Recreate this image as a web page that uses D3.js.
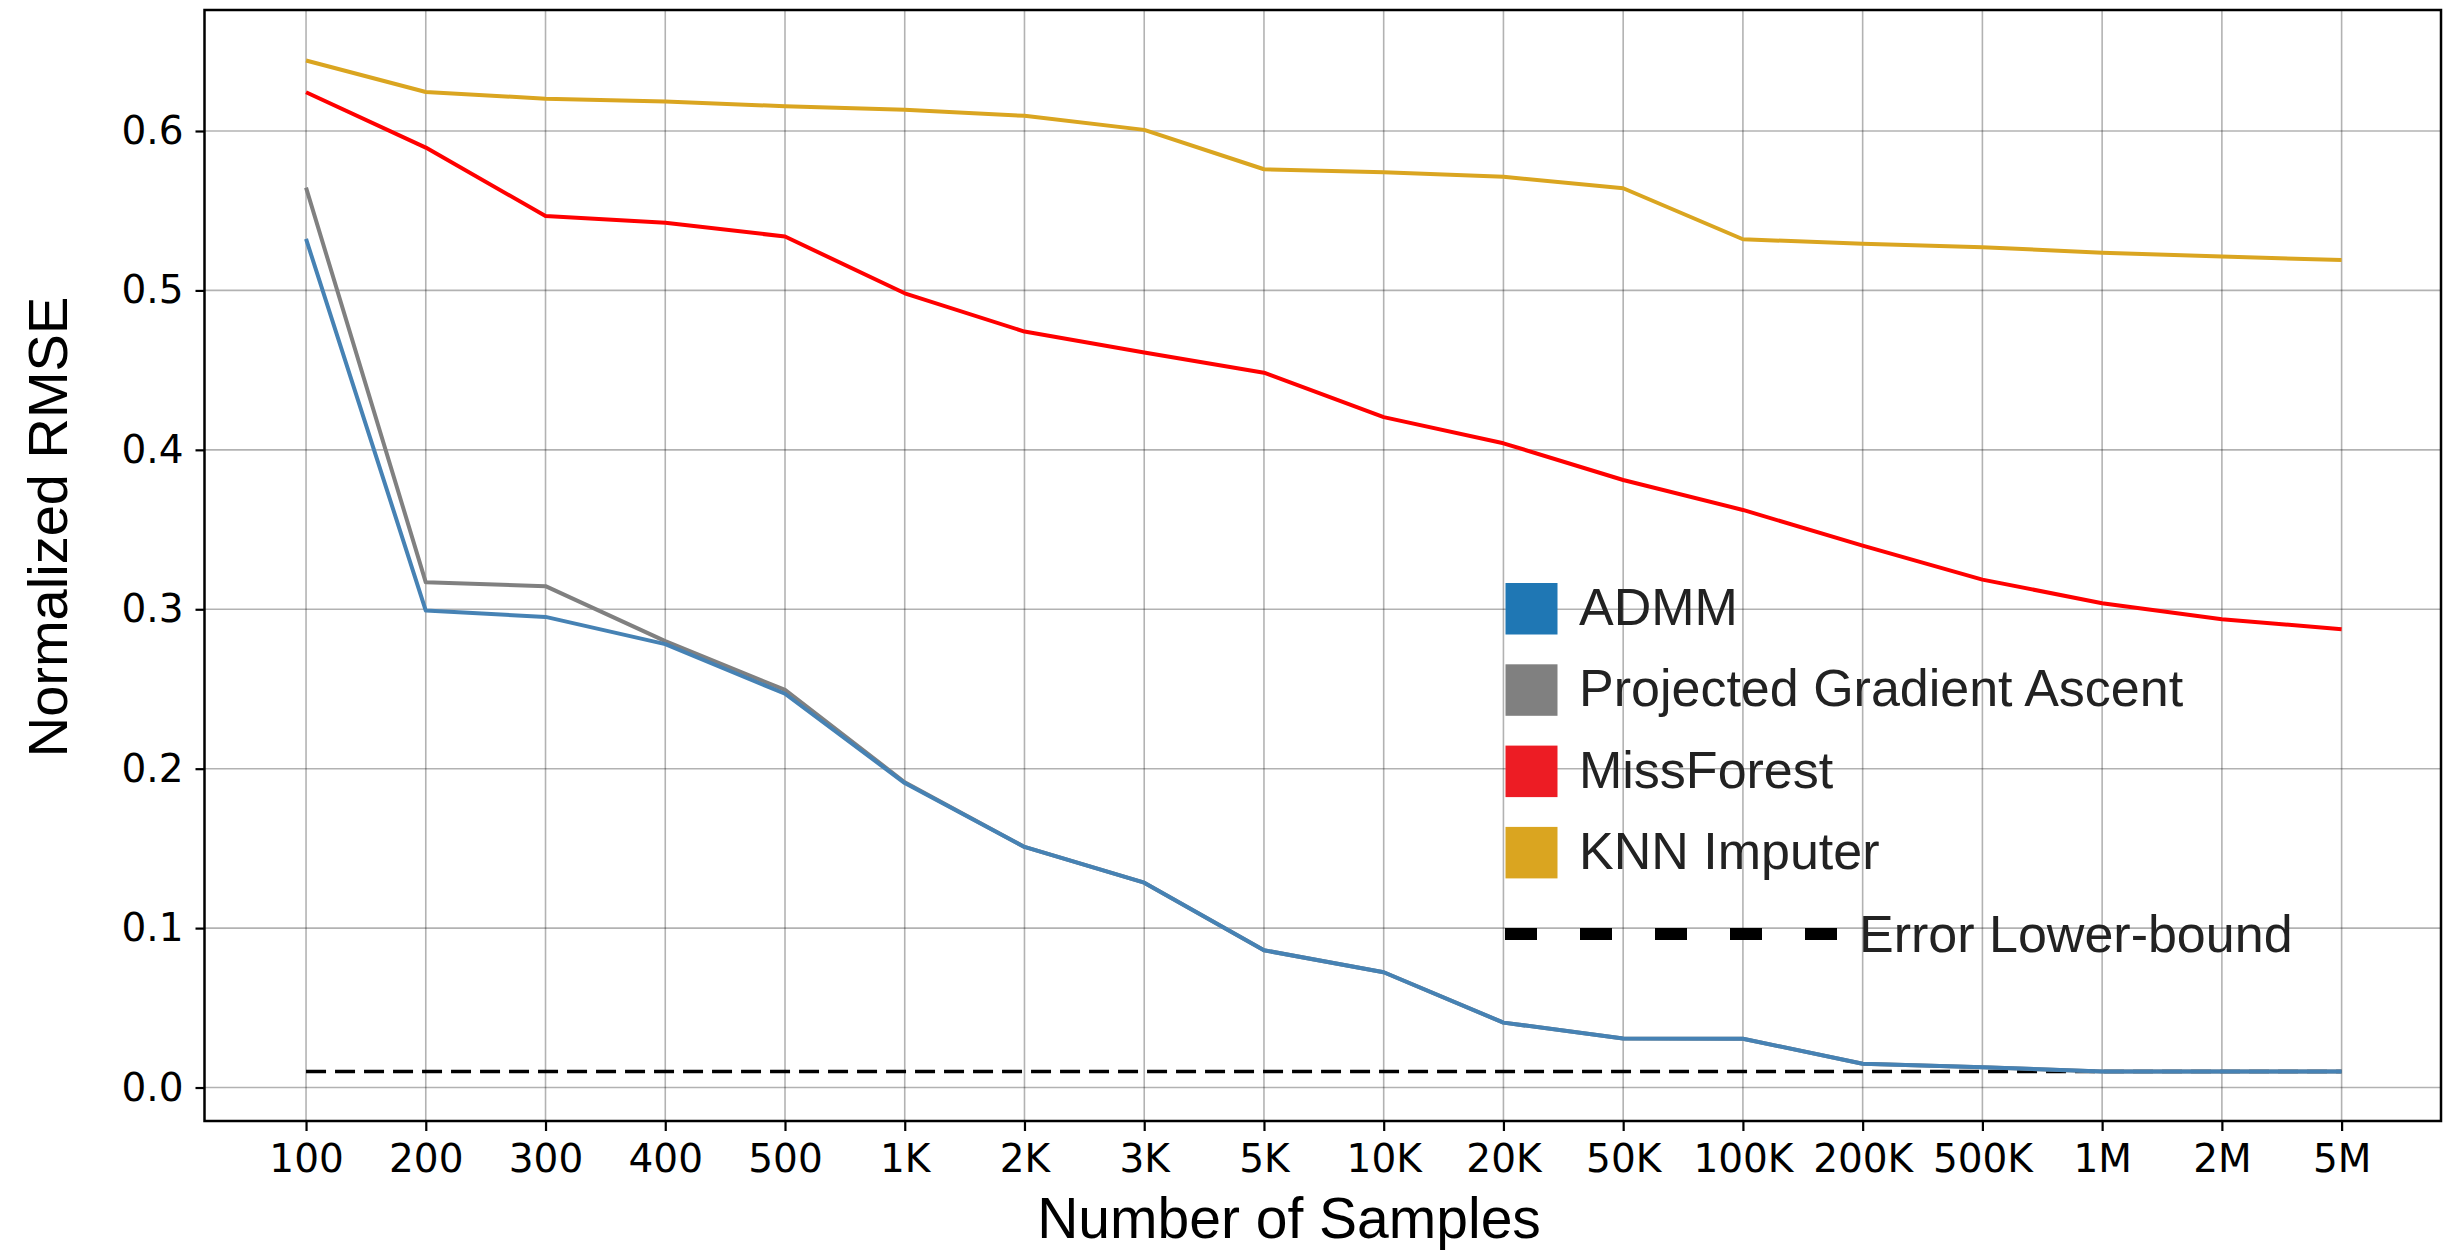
<!DOCTYPE html>
<html>
<head>
<meta charset="utf-8">
<script src="https://cdn.jsdelivr.net/npm/d3@7"></script>
<style>
  html, body { margin: 0; padding: 0; background: #fff; }
  svg { display: block; }
</style>
</head>
<body>
<div id="chart"></div>
<script>
// 数据
const sampleLabels = ["100", "200", "300", "400", "500", "1K", "2K", "3K", "5K", "10K", "20K", "50K", "100K", "200K", "500K", "1M", "2M", "5M"];
const yTicks = [0.0, 0.1, 0.2, 0.3, 0.4, 0.5, 0.6];

const admm = [0.5323, 0.2992, 0.2952, 0.2781, 0.2470, 0.1910, 0.1509, 0.1285, 0.0861, 0.0723, 0.0407, 0.0308, 0.0306, 0.0149, 0.0127, 0.0101, 0.0101, 0.0101];
const pga = [0.5645, 0.3169, 0.3145, 0.2800, 0.2494, 0.1915, 0.1509, 0.1285, 0.0861, 0.0723, 0.0407, 0.0308, 0.0306, 0.0149, 0.0127, 0.0101, 0.0101, 0.0101];
const missForest = [0.6243, 0.5896, 0.5467, 0.5425, 0.5338, 0.4982, 0.4742, 0.4610, 0.4484, 0.4205, 0.4041, 0.3811, 0.3623, 0.3399, 0.3186, 0.3038, 0.2937, 0.2875];
const knn = [0.6442, 0.6245, 0.6203, 0.6185, 0.6155, 0.6134, 0.6095, 0.6007, 0.5760, 0.5741, 0.5713, 0.5641, 0.5321, 0.5292, 0.5271, 0.5237, 0.5212, 0.5191];
const lowerBound = [0.0101, 0.0101, 0.0101, 0.0101, 0.0101, 0.0101, 0.0101, 0.0101, 0.0101, 0.0101, 0.0101, 0.0101, 0.0101, 0.0101, 0.0101, 0.0101, 0.0101, 0.0101];

const seriesNames = ["ADMM", "Projected Gradient Ascent", "MissForest", "KNN Imputer"];
const patchColors = ["#1f77b4", "#808080", "#ed1c24", "#daa520"];

// 画布
const width = 2443, height = 1251;
const plot = { left: 204.5, right: 2441, top: 10, bottom: 1121 };

const svg = d3.select("#chart").append("svg")
    .attr("width", width)
    .attr("height", height);

const x = d3.scaleLinear()
    .domain([-0.848, 17.83])
    .range([plot.left, plot.right]);

const y = d3.scaleLinear()
    .domain([-0.021, 0.6759])
    .range([plot.bottom, plot.top]);

const idx = d3.range(sampleLabels.length);

// 网格
const grid = svg.append("g");
grid.selectAll("line.v").data(idx).join("line")
    .attr("x1", d => x(d)).attr("x2", d => x(d))
    .attr("y1", plot.top).attr("y2", plot.bottom)
    .attr("stroke", "#000").attr("stroke-opacity", 0.3).attr("stroke-width", 1.6);
grid.selectAll("line.h").data(yTicks).join("line")
    .attr("x1", plot.left).attr("x2", plot.right)
    .attr("y1", d => y(d)).attr("y2", d => y(d))
    .attr("stroke", "#000").attr("stroke-opacity", 0.3).attr("stroke-width", 1.6);

// 坐标轴
const xAxis = svg.append("g")
    .attr("transform", `translate(0,${plot.bottom})`)
    .call(d3.axisBottom(x).tickValues(idx).tickFormat(i => sampleLabels[i]).tickSize(10).tickPadding(12));

const yAxis = svg.append("g")
    .attr("transform", `translate(${plot.left},0)`)
    .call(d3.axisLeft(y).tickValues(yTicks).tickFormat(d3.format(".1f")).tickSize(9).tickPadding(12));

[xAxis, yAxis].forEach(a => {
    a.select(".domain").remove();
    a.selectAll(".tick line").attr("stroke", "#000").attr("stroke-width", 2.2);
    a.selectAll(".tick text")
        .attr("fill", "#000")
        .style("font-family", "'DejaVu Sans', sans-serif")
        .style("font-size", "39px");
});
xAxis.selectAll(".tick text").attr("dy", null).attr("y", 51);

// 折线
const line = d3.line()
    .x((d, i) => x(i))
    .y(d => y(d));

svg.append("path").datum(lowerBound)
    .attr("d", line)
    .attr("fill", "none")
    .attr("stroke", "#000")
    .attr("stroke-width", 3.5)
    .attr("stroke-dasharray", "20,9");

const lines = [
    { data: pga, color: "#808080" },
    { data: admm, color: "#4682b4" },
    { data: missForest, color: "#ff0000" },
    { data: knn, color: "#daa520" }
];
lines.forEach(s => {
    svg.append("path").datum(s.data)
        .attr("d", line)
        .attr("fill", "none")
        .attr("stroke", s.color)
        .attr("stroke-width", 4)
        .attr("stroke-linejoin", "round");
});

// 边框
svg.append("rect")
    .attr("x", plot.left).attr("y", plot.top)
    .attr("width", plot.right - plot.left)
    .attr("height", plot.bottom - plot.top)
    .attr("fill", "none")
    .attr("stroke", "#000")
    .attr("stroke-width", 2.5);

// 轴标题
svg.append("text")
    .attr("x", 1289).attr("y", 1238)
    .attr("text-anchor", "middle")
    .style("font-family", "'Liberation Sans', Arial, sans-serif")
    .style("font-size", "57px")
    .text("Number of Samples");

svg.append("text")
    .attr("transform", "translate(66.5,527) rotate(-90)")
    .attr("text-anchor", "middle")
    .style("font-family", "'Liberation Sans', Arial, sans-serif")
    .style("font-size", "56px")
    .text("Normalized RMSE");

// 图例
const legend = svg.append("g")
    .style("font-family", "'Liberation Sans', Arial, sans-serif")
    .style("font-size", "52px")
    .attr("fill", "#222");

seriesNames.forEach((name, i) => {
    const top = 583 + i * 81.3;
    legend.append("rect")
        .attr("x", 1505.5).attr("y", top)
        .attr("width", 52).attr("height", 51.5)
        .attr("fill", patchColors[i]);
    legend.append("text")
        .attr("x", 1579).attr("y", top + 42)
        .text(name);
});

legend.append("line")
    .attr("x1", 1505).attr("x2", 1838)
    .attr("y1", 934).attr("y2", 934)
    .attr("stroke", "#000")
    .attr("stroke-width", 12)
    .attr("stroke-dasharray", "32,43");
legend.append("text")
    .attr("x", 1859).attr("y", 952)
    .text("Error Lower-bound");
</script>
</body>
</html>
